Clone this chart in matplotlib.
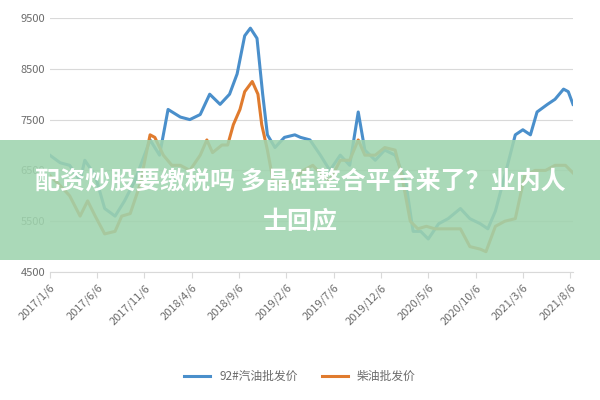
import matplotlib.pyplot as plt
from matplotlib.patches import Rectangle

plt.rcParams['font.family'] = ['Noto Sans CJK SC', 'DejaVu Sans']

# months after 2017/1/6
tick_labels = ['2017/1/6', '2017/6/6', '2017/11/6', '2018/4/6', '2018/9/6', '2019/2/6',
               '2019/7/6', '2019/12/6', '2020/5/6', '2020/10/6', '2021/3/6', '2021/8/6']

gas_m = [0, 1.1, 2.1, 3.2, 3.7, 4.8, 5.8, 6.9, 7.9, 9.0, 10.0, 10.6, 11.6, 12.5, 13.8, 14.8,
         15.9, 16.9, 18.0, 19.0, 19.8, 20.6, 21.2, 21.9, 22.5, 23.0, 23.8, 24.8, 25.9, 26.5,
         27.5, 28.6, 29.6, 30.7, 31.7, 32.6, 33.3, 34.4, 35.4, 36.5, 37.6, 38.4, 39.2, 40.0,
         41.1, 42.1, 43.4, 44.4, 45.5, 46.3, 47.1, 48.1, 49.2, 50.0, 50.8, 51.5, 52.6, 53.4,
         54.3, 54.8, 55.3]
gas = [6800, 6650, 6600, 6300, 6700, 6400, 5750, 5600, 5900, 6300, 6800, 7100, 6800, 7700,
       7550, 7500, 7600, 8000, 7800, 8000, 8400, 9150, 9300, 9100, 8000, 7200, 6950, 7150,
       7200, 7150, 7100, 6800, 6500, 6800, 6600, 7650, 6900, 6700, 6900, 6800, 6300, 5300,
       5300, 5150, 5450, 5550, 5750, 5550, 5450, 5350, 5700, 6400, 7200, 7300, 7200, 7650,
       7800, 7900, 8100, 8050, 7800]

diesel_m = [0, 1.1, 2.1, 3.2, 4.0, 4.8, 5.8, 6.9, 7.6, 8.5, 9.5, 10.6, 11.1, 12.0, 12.9,
            13.8, 14.8, 15.9, 16.6, 17.2, 18.2, 18.8, 19.4, 20.1, 20.6, 21.4, 22.0, 22.4,
            23.0, 23.6, 24.7, 25.7, 26.8, 27.8, 28.8, 29.6, 30.7, 31.7, 32.6, 33.3, 34.4,
            35.4, 36.5, 37.2, 38.1, 38.9, 39.8, 40.7, 41.8, 43.4, 44.4, 45.5, 46.1, 47.1,
            48.1, 49.2, 50.2, 51.3, 52.4, 53.4, 54.5, 55.3]
diesel = [6400, 6200, 6000, 5600, 5900, 5600, 5250, 5300, 5600, 5650, 6200, 7200, 7150,
          6800, 6600, 6600, 6500, 6800, 7100, 6850, 7000, 7000, 7400, 7700, 8050, 8250, 8000,
          7400, 6900, 6300, 6200, 6300, 6500, 6600, 6400, 6300, 6700, 6700, 7100, 6800, 6800,
          6950, 6900, 6400, 5500, 5350, 5400, 5350, 5350, 5350, 5000, 4950, 4900, 5400, 5500,
          5550, 6400, 6500, 6500, 6600, 6600, 6450]

fig = plt.figure(figsize=(6, 4), dpi=100)
ax = fig.add_axes([0.083, 0.32, 0.872, 0.635])
ax.plot(gas_m, gas, color='#4a8fcb', lw=2.2, label='92#汽油批发价')
ax.plot(diesel_m, diesel, color='#e07b2e', lw=2.2, label='柴油批发价')

ax.set_xlim(0, 55.3)
ax.set_ylim(4500, 9500)
ax.set_yticks([4500, 5500, 6500, 7500, 8500, 9500])
ax.set_xticks(range(0, 56, 5))
ax.set_xticklabels(tick_labels, rotation=45, ha='right', rotation_mode='anchor')
ax.tick_params(colors='#6b6b6b', labelsize=8, length=0)
ax.tick_params(axis='x', length=4, color='#d9d9d9')
ax.grid(axis='y', color='#d9d9d9', lw=0.8)
for s in ['top', 'right', 'left']:
    ax.spines[s].set_visible(False)
ax.spines['bottom'].set_color('#d9d9d9')

fig.legend(loc='center', bbox_to_anchor=(0.5, 0.058), ncol=2, frameon=False,
           fontsize=8.5, labelcolor='#6b6b6b', handlelength=2.2)

# green banner with headline
fig.patches.append(Rectangle((0, 0.35), 1, 0.3, transform=fig.transFigure,
                             facecolor='#9fd4ae', alpha=0.88, zorder=5))
fig.text(0.5, 0.543, '配资炒股要缴税吗 多晶硅整合平台来了？业内人', color='white',
         fontsize=18, fontweight='bold', ha='center', va='center', zorder=6)
fig.text(0.5, 0.445, '士回应', color='white', fontsize=18, fontweight='bold',
         ha='center', va='center', zorder=6)

fig.savefig('out.png')
